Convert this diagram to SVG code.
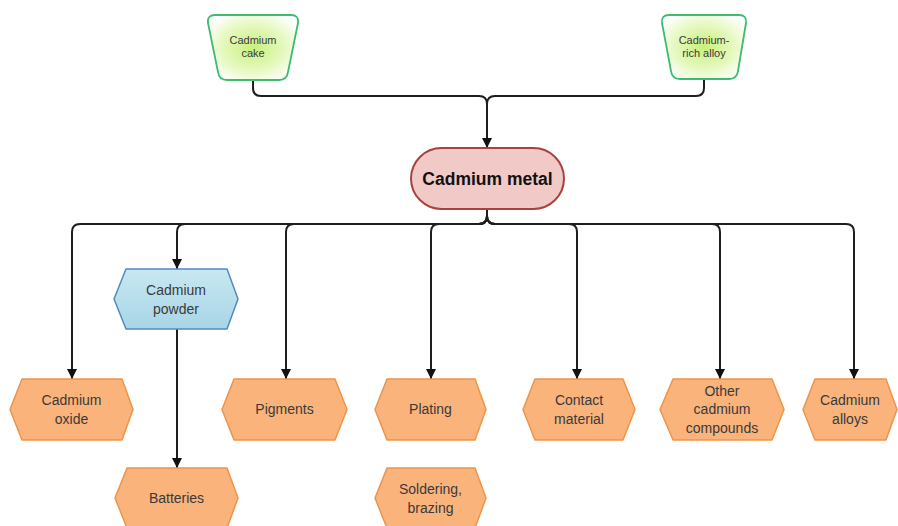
<svg xmlns="http://www.w3.org/2000/svg" width="898" height="526" viewBox="0 0 898 526">
<style>
.t{font-family:"Liberation Sans",Arial,sans-serif;fill:#3a3a3a;text-anchor:middle}
.s{font-size:11px}
.m{font-size:14px}
.b{font-size:17.5px;font-weight:bold;fill:#111}
.or{fill:#f9b37b;stroke:#ee9448;stroke-width:1.5;stroke-linejoin:round}
.bl{fill:url(#blg);stroke:#4f8cbc;stroke-width:1.5;stroke-linejoin:round}
.gr{fill:url(#grg);stroke:#3dbb70;stroke-width:1.8;stroke-linejoin:round}
.c{fill:none;stroke:#1e1e1e;stroke-width:2}
</style>
<defs>
<radialGradient id="grg" cx="0.5" cy="0.5" r="0.6">
<stop offset="0" stop-color="#c9f07a"/>
<stop offset="0.6" stop-color="#e6f9c2"/>
<stop offset="1" stop-color="#ffffff"/>
</radialGradient>
<linearGradient id="blg" x1="0" y1="0" x2="0" y2="1">
<stop offset="0" stop-color="#c8e8f2"/>
<stop offset="1" stop-color="#a8d5e6"/>
</linearGradient>
<marker id="ah" markerUnits="userSpaceOnUse" markerWidth="10" markerHeight="10" viewBox="0 0 10 10" refX="10" refY="5" orient="auto">
<path d="M0,0 L10,5 L0,10 z" fill="#111"/>
</marker>
</defs>
<g id="connectors">
<path class="c" d="M253,80 V88 Q253,96 261,96 H479 Q487,96 487,104 V148" marker-end="url(#ah)"/>
<path class="c" d="M704,79 V88 Q704,96 696,96 H495 Q487,96 487,104"/>
<path class="c" d="M487,209 V216 Q487,224 479,224 H80 Q72,224 72,232 V379" marker-end="url(#ah)"/>
<path class="c" d="M487,209 V216 Q487,224 479,224 H185 Q177,224 177,232 V269" marker-end="url(#ah)"/>
<path class="c" d="M487,209 V216 Q487,224 479,224 H294 Q286,224 286,232 V379" marker-end="url(#ah)"/>
<path class="c" d="M487,209 V216 Q487,224 479,224 H439 Q431,224 431,232 V379" marker-end="url(#ah)"/>
<path class="c" d="M487,209 V216 Q487,224 495,224 H569 Q577,224 577,232 V379" marker-end="url(#ah)"/>
<path class="c" d="M487,209 V216 Q487,224 495,224 H712 Q720,224 720,232 V379" marker-end="url(#ah)"/>
<path class="c" d="M487,209 V216 Q487,224 495,224 H846 Q854,224 854,232 V379" marker-end="url(#ah)"/>
<path class="c" d="M177,329 V468" marker-end="url(#ah)"/>
</g>
<g id="cadmium-cake">
<path class="gr" d="M215,15 L291,15 Q299,15 298,23 L288,72 Q287,80 279,80 L227,80 Q219,80 218,72 L208,23 Q207,15 215,15 Z"/>
<text class="t s" x="253" y="44">Cadmium</text>
<text class="t s" x="253" y="57">cake</text>
</g>
<g id="cadmium-rich-alloy">
<path class="gr" d="M669,15 L739,15 Q747,15 746,23 L738,71 Q737,79 729,79 L680,79 Q672,79 671,71 L662,23 Q661,15 669,15 Z"/>
<text class="t s" x="704" y="44">Cadmium-</text>
<text class="t s" x="704" y="57">rich alloy</text>
</g>
<g id="cadmium-metal">
<rect x="411" y="148" width="153" height="61" rx="30.5" fill="#f1c9c7" stroke="#a9423d" stroke-width="2"/>
<text class="t b" x="487.5" y="185">Cadmium metal</text>
</g>
<g id="cadmium-powder">
<polygon class="bl" points="114,299 126,269 227,269 238,299 227,329 126,329"/>
<text class="t m" x="176" y="295">Cadmium</text>
<text class="t m" x="176" y="314">powder</text>
</g>
<g id="cadmium-oxide">
<polygon class="or" points="10,409.5 22,379 122,379 133,409.5 122,440 22,440"/>
<text class="t m" x="71.5" y="405">Cadmium</text>
<text class="t m" x="71.5" y="424">oxide</text>
</g>
<g id="batteries">
<polygon class="or" points="115,498 127,468 227,468 238,498 227,528 127,528"/>
<text class="t m" x="176.5" y="503">Batteries</text>
</g>
<g id="pigments">
<polygon class="or" points="222,409.5 234,379 335,379 347,409.5 335,440 234,440"/>
<text class="t m" x="284.5" y="414">Pigments</text>
</g>
<g id="plating">
<polygon class="or" points="375,409.5 387,379 475,379 486,409.5 475,440 387,440"/>
<text class="t m" x="430.5" y="414">Plating</text>
</g>
<g id="soldering-brazing">
<polygon class="or" points="375,498 387,468 475,468 486,498 475,528 387,528"/>
<text class="t m" x="430.5" y="494">Soldering,</text>
<text class="t m" x="430.5" y="513">brazing</text>
</g>
<g id="contact-material">
<polygon class="or" points="523,409.5 535,379 623,379 635,409.5 623,440 535,440"/>
<text class="t m" x="579" y="405">Contact</text>
<text class="t m" x="579" y="424">material</text>
</g>
<g id="other-cadmium-compounds">
<polygon class="or" points="660,409.5 673,379 772,379 784,409.5 772,440 673,440"/>
<text class="t m" x="722" y="396">Other</text>
<text class="t m" x="722" y="414">cadmium</text>
<text class="t m" x="722" y="433">compounds</text>
</g>
<g id="cadmium-alloys">
<polygon class="or" points="803,409.5 815,379 886,379 897,409.5 886,440 815,440"/>
<text class="t m" x="850" y="405">Cadmium</text>
<text class="t m" x="850" y="424">alloys</text>
</g>
</svg>
